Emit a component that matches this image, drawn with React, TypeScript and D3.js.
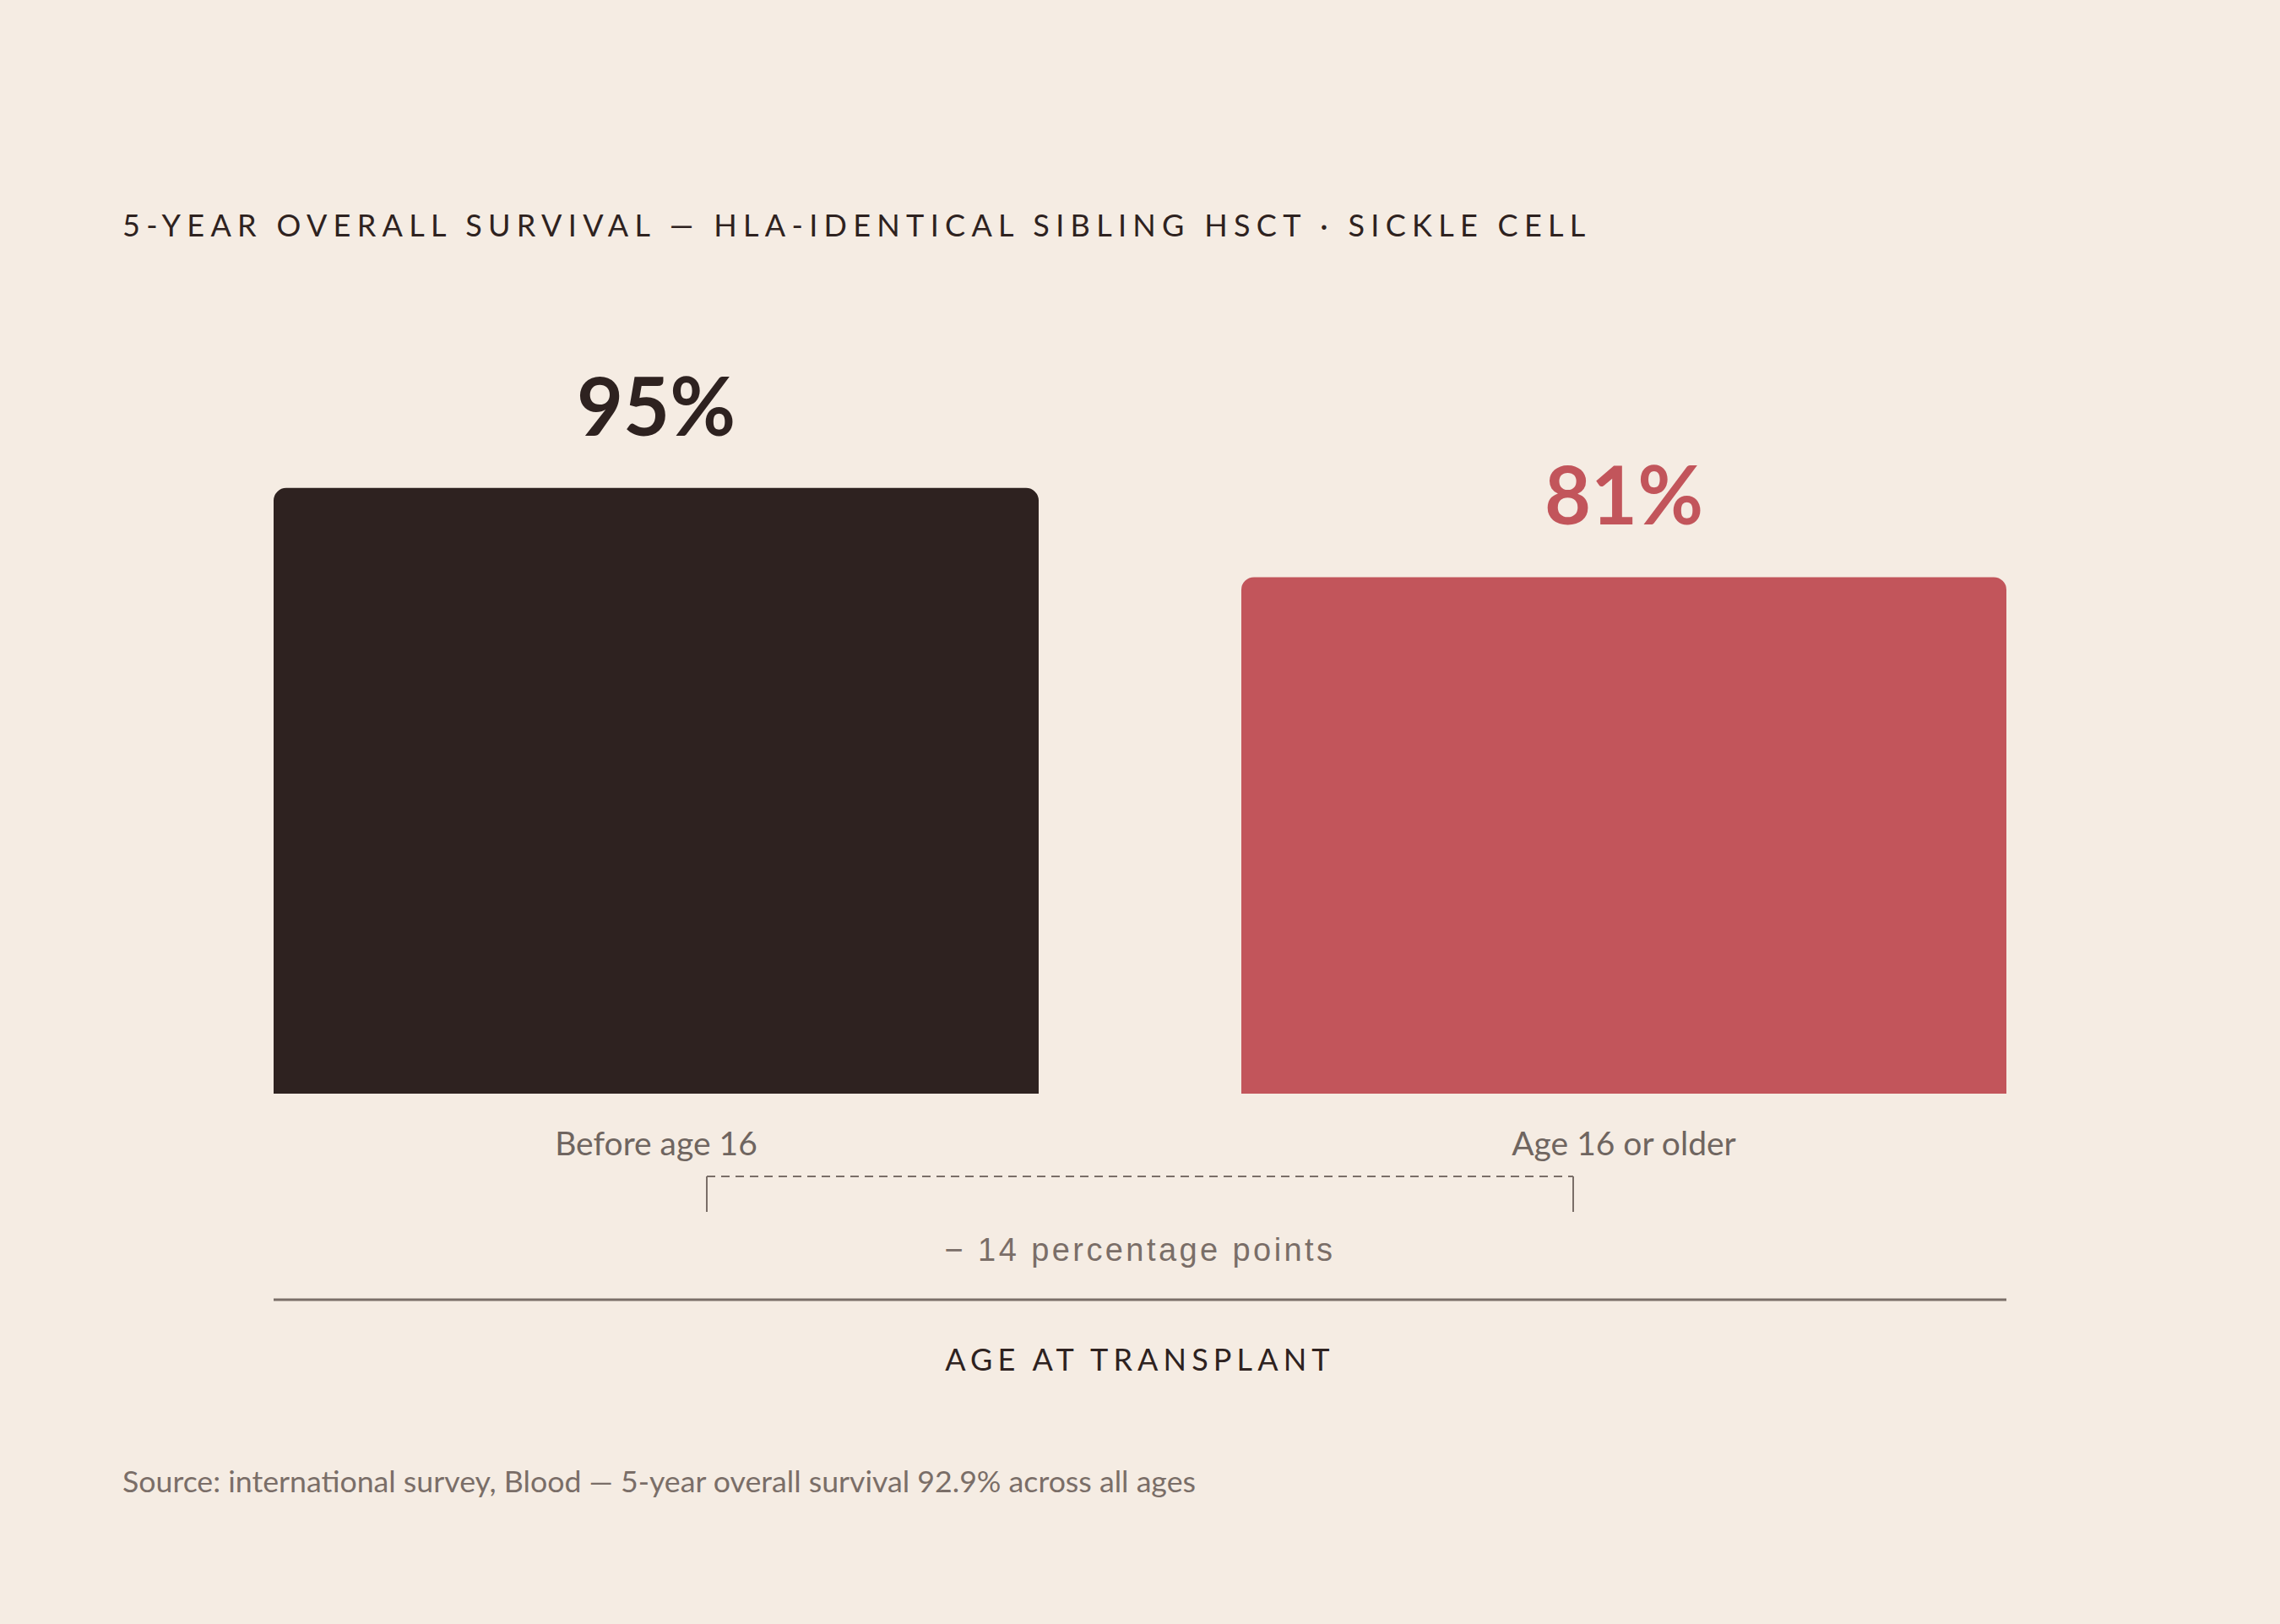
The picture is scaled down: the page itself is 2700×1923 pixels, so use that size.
import * as d3 from 'd3';
import { useEffect, useRef } from 'react';

const categories = ['Before age 16', 'Age 16 or older'];
const survival = [95, 81];
const valueLabels = ['95%', '81%'];
const barColors = ['#2e2220', '#c2555b'];
const gapLabel = '\u2212 14 percentage points';

export default function App() {
    const ref = useRef<SVGSVGElement | null>(null);

    useEffect(() => {
        if (!ref.current) return;
        document.body.style.margin = '0';
        const svg = d3.select(ref.current);
        svg.selectAll('*').remove();

        const width = 2700;
        const height = 1923;
        const left = 324;
        const right = 2376;
        const baseY = 1295;
        const font = 'Lato, "Open Sans", sans-serif';

        svg.attr('viewBox', `0 0 ${width} ${height}`);
        svg.append('rect').attr('width', width).attr('height', height).attr('fill', '#f5ece3');

        const x = d3.scaleBand<string>().domain(categories).range([left, right]).paddingInner(0.2094).paddingOuter(0);
        const y = d3.scaleLinear().domain([0, 100]).range([baseY, baseY - 755]);

        // title
        svg.append('text')
            .attr('x', 145)
            .attr('y', 280)
            .attr('font-family', font)
            .attr('font-size', 36)
            .attr('letter-spacing', '0.203em')
            .attr('fill', '#2e2220')
            .text('5-YEAR OVERALL SURVIVAL \u2014 HLA-IDENTICAL SIBLING HSCT \u00b7 SICKLE CELL');

        const r = 15;
        const barPath = (x0: number, w: number, top: number) => {
            const p = d3.path();
            p.moveTo(x0, baseY);
            p.lineTo(x0, top + r);
            p.arcTo(x0, top, x0 + r, top, r);
            p.lineTo(x0 + w - r, top);
            p.arcTo(x0 + w, top, x0 + w, top + r, r);
            p.lineTo(x0 + w, baseY);
            p.closePath();
            return p.toString();
        };

        const data = categories.map((c, i) => ({ c, v: survival[i], label: valueLabels[i], color: barColors[i] }));

        svg.append('g')
            .selectAll('path')
            .data(data)
            .join('path')
            .attr('d', (d) => barPath(x(d.c)!, x.bandwidth(), y(d.v)))
            .attr('fill', (d) => d.color);

        svg.append('g')
            .selectAll('text')
            .data(data)
            .join('text')
            .attr('x', (d) => x(d.c)! + x.bandwidth() / 2)
            .attr('y', (d) => y(d.v) - 62)
            .attr('text-anchor', 'middle')
            .attr('font-family', font)
            .attr('font-weight', 700)
            .attr('font-size', 95)
            .attr('fill', (d) => d.color)
            .text((d) => d.label);

        // category labels
        svg.append('g')
            .selectAll('text')
            .data(data)
            .join('text')
            .attr('x', (d) => x(d.c)! + x.bandwidth() / 2)
            .attr('y', 1368)
            .attr('text-anchor', 'middle')
            .attr('font-family', font)
            .attr('font-size', 39)
            .attr('fill', '#6f6560')
            .text((d) => d.c);

        // difference bracket
        const bx0 = x(categories[0])! + x.bandwidth() / 2 + 60;
        const bx1 = x(categories[1])! + x.bandwidth() / 2 - 60;
        const bY = 1393;
        const bracket = svg.append('g').attr('stroke', '#7a6e68').attr('fill', 'none').attr('stroke-width', 2);
        bracket.append('line').attr('x1', bx0).attr('x2', bx1).attr('y1', bY).attr('y2', bY).attr('stroke-dasharray', '10,7');
        bracket.append('line').attr('x1', bx0).attr('x2', bx0).attr('y1', bY).attr('y2', bY + 42);
        bracket.append('line').attr('x1', bx1).attr('x2', bx1).attr('y1', bY).attr('y2', bY + 42);

        svg.append('text')
            .attr('x', (left + right) / 2)
            .attr('y', 1493)
            .attr('text-anchor', 'middle')
            .attr('font-family', '"Liberation Sans", Arial, sans-serif')
            .attr('font-size', 38)
            .attr('letter-spacing', '0.09em')
            .attr('fill', '#7a6e68')
            .text(gapLabel);

        // axis line
        svg.append('line')
            .attr('x1', left)
            .attr('x2', right)
            .attr('y1', 1539)
            .attr('y2', 1539)
            .attr('stroke', '#7a6e68')
            .attr('stroke-width', 3);

        svg.append('text')
            .attr('x', (left + right) / 2)
            .attr('y', 1623)
            .attr('text-anchor', 'middle')
            .attr('font-family', font)
            .attr('font-size', 36)
            .attr('letter-spacing', '0.17em')
            .attr('fill', '#2e2220')
            .text('AGE AT TRANSPLANT');

        svg.append('text')
            .attr('x', 145)
            .attr('y', 1767)
            .attr('font-family', font)
            .attr('font-size', 35.7)
            .attr('fill', '#7a6e68')
            .text('Source: international survey, Blood \u2014 5-year overall survival 92.9% across all ages');
    }, []);

    return <svg ref={ref} width={2700} height={1923} style={{ display: 'block' }} />;
}
